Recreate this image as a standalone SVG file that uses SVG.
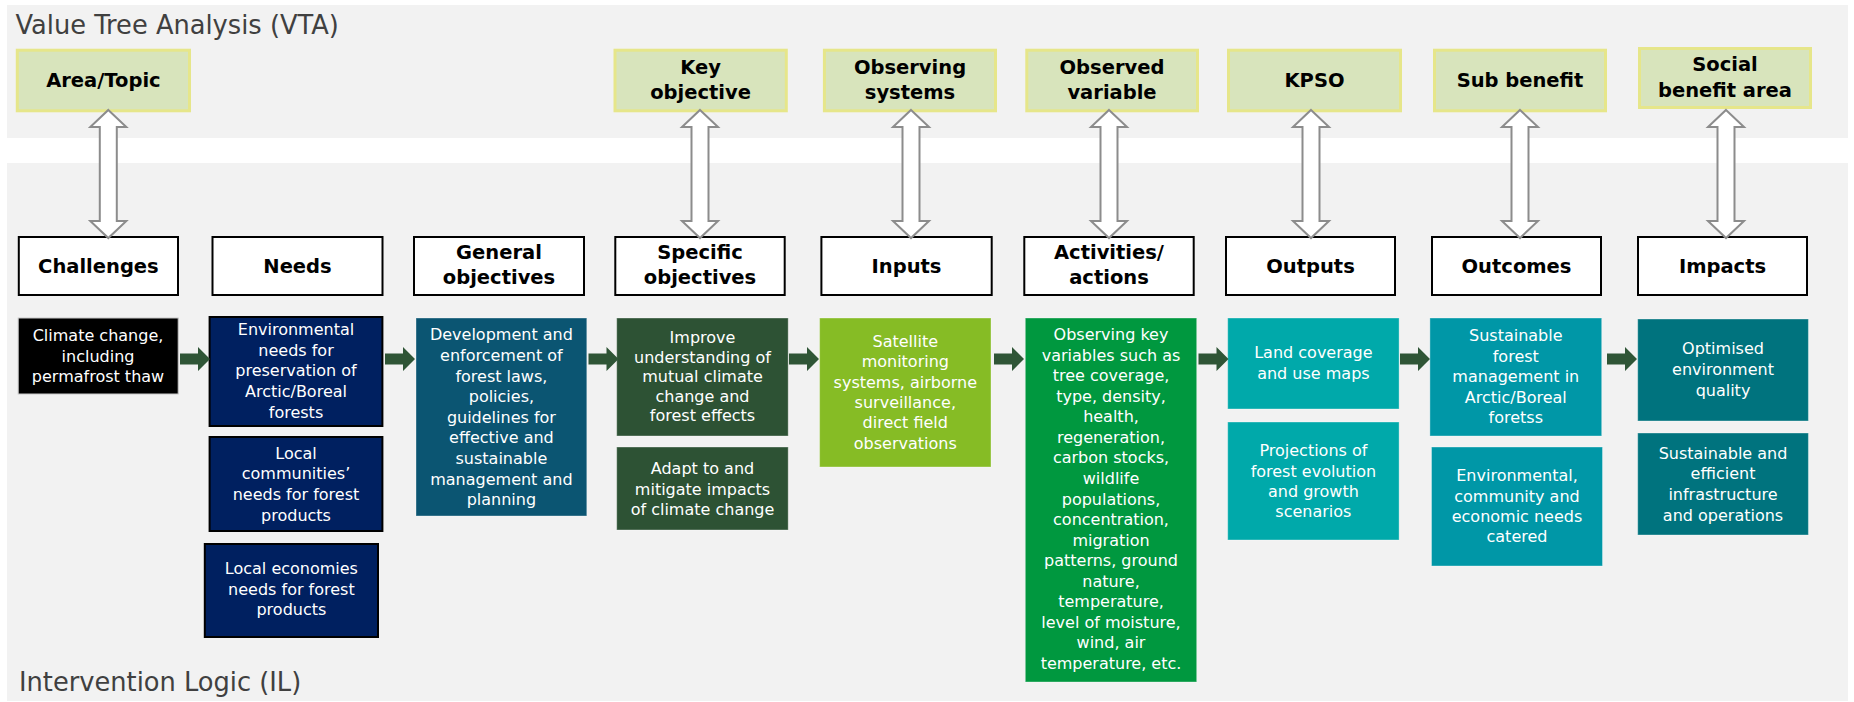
<svg xmlns="http://www.w3.org/2000/svg" width="1854" height="702" viewBox="0 0 1854 702">
<style>
.band{fill:#f2f2f2}
.ttl{font-family:"DejaVu Sans",sans-serif;font-size:25.7px;fill:#404040}
.vta{fill:#d8e4bc;stroke:#e6e68a;stroke-width:3}
.hdr{fill:#fff;stroke:#000;stroke-width:2}
.b{font-family:"DejaVu Sans",sans-serif;font-weight:bold;font-size:19.5px;fill:#000;text-anchor:middle}
.t{font-family:"DejaVu Sans",sans-serif;font-size:16px;fill:#fff;text-anchor:middle}
.dbl{fill:#fff;stroke:#8c8c8c;stroke-width:2}
.ga{fill:#2f5536}
.bx{stroke:#ffffff;stroke-opacity:0.35;stroke-width:1}
.navy{fill:#002060;stroke:#000;stroke-width:2}
</style>
<defs>
<path id="dblarrow" d="M0,0 L18,17 H8.5 V111 H18 L0,128 L-18,111 H-8.5 V17 H-18 Z"/>
<path id="garrow" d="M0,-5.5 H18 V-12 L30,0 L18,12 V5.5 H0 Z"/>
</defs>
<rect width="1854" height="702" fill="#fff"/>
<rect class="band" x="7" y="5" width="1841" height="133"/>
<rect class="band" x="7" y="163" width="1841" height="538"/>
<text class="ttl" x="15.5" y="34">Value Tree Analysis (VTA)</text>
<text class="ttl" x="19" y="691">Intervention Logic (IL)</text>

<g id="vta-area-topic"><rect class="vta" x="17.3" y="50.2" width="172.2" height="60.6"/><text class="b" x="103.4" y="86.7">Area/Topic</text></g>
<g id="vta-key-objective"><rect class="vta" x="615" y="50.2" width="171.3" height="60.6"/><text class="b" x="700.6" y="74">Key</text><text class="b" x="700.6" y="99">objective</text></g>
<g id="vta-observing-systems"><rect class="vta" x="824.4" y="50.2" width="171.1" height="60.6"/><text class="b" x="910" y="74">Observing</text><text class="b" x="910" y="99">systems</text></g>
<g id="vta-observed-variable"><rect class="vta" x="1026.8" y="50.2" width="170.7" height="60.6"/><text class="b" x="1112" y="74">Observed</text><text class="b" x="1112" y="99">variable</text></g>
<g id="vta-kpso"><rect class="vta" x="1228.5" y="50.2" width="172" height="60.6"/><text class="b" x="1314.5" y="86.7">KPSO</text></g>
<g id="vta-sub-benefit"><rect class="vta" x="1434.5" y="50.2" width="171" height="60.6"/><text class="b" x="1520" y="86.7">Sub benefit</text></g>
<g id="vta-social-benefit-area"><rect class="vta" x="1639.5" y="48.5" width="171" height="59"/><text class="b" x="1725" y="71">Social</text><text class="b" x="1725" y="96.7">benefit area</text></g>

<g id="hdr-challenges"><rect class="hdr" x="18.8" y="237" width="159.2" height="58"/><text class="b" x="98.4" y="273">Challenges</text></g>
<g id="hdr-needs"><rect class="hdr" x="212.5" y="237" width="170" height="58"/><text class="b" x="297.5" y="273">Needs</text></g>
<g id="hdr-general-objectives"><rect class="hdr" x="414" y="237" width="170" height="58"/><text class="b" x="499" y="259.3">General</text><text class="b" x="499" y="284">objectives</text></g>
<g id="hdr-specific-objectives"><rect class="hdr" x="615.3" y="237" width="169.4" height="58"/><text class="b" x="700" y="259.3">Specific</text><text class="b" x="700" y="284">objectives</text></g>
<g id="hdr-inputs"><rect class="hdr" x="821.4" y="237" width="170.3" height="58"/><text class="b" x="906.5" y="273">Inputs</text></g>
<g id="hdr-activities-actions"><rect class="hdr" x="1024.3" y="237" width="169.4" height="58"/><text class="b" x="1109" y="259.3">Activities/</text><text class="b" x="1109" y="284">actions</text></g>
<g id="hdr-outputs"><rect class="hdr" x="1226" y="237" width="169" height="58"/><text class="b" x="1310.5" y="273">Outputs</text></g>
<g id="hdr-outcomes"><rect class="hdr" x="1432" y="237" width="169" height="58"/><text class="b" x="1516.5" y="273">Outcomes</text></g>
<g id="hdr-impacts"><rect class="hdr" x="1638" y="237" width="169" height="58"/><text class="b" x="1722.5" y="273">Impacts</text></g>

<g id="challenge-climate"><rect x="18.2" y="318" width="160" height="76" fill="#000" stroke="#c8c8c8" stroke-width="1"/>
<text class="t"><tspan x="98" y="341">Climate change,</tspan><tspan x="98" y="361.5">including</tspan><tspan x="98" y="382">permafrost thaw</tspan></text></g>

<g id="need-environmental"><rect class="navy" x="209.6" y="317" width="172.8" height="109"/>
<text class="t"><tspan x="296" y="335">Environmental</tspan><tspan x="296" y="355.7">needs for</tspan><tspan x="296" y="376.3">preservation of</tspan><tspan x="296" y="396.9">Arctic/Boreal</tspan><tspan x="296" y="417.5">forests</tspan></text></g>
<g id="need-local-communities"><rect class="navy" x="209.6" y="437" width="172.8" height="94"/>
<text class="t"><tspan x="296" y="458.7">Local</tspan><tspan x="296" y="479.3">communities’</tspan><tspan x="296" y="500">needs for forest</tspan><tspan x="296" y="520.5">products</tspan></text></g>
<g id="need-local-economies"><rect class="navy" x="204.8" y="544" width="173.2" height="93"/>
<text class="t"><tspan x="291.4" y="574">Local economies</tspan><tspan x="291.4" y="594.7">needs for forest</tspan><tspan x="291.4" y="615.3">products</tspan></text></g>

<g id="general-objective"><rect class="bx" x="416" y="318" width="170.8" height="198" fill="#0b5572"/>
<text class="t"><tspan x="501.4" y="340.3">Development and</tspan><tspan x="501.4" y="360.9">enforcement of</tspan><tspan x="501.4" y="381.5">forest laws,</tspan><tspan x="501.4" y="402.1">policies,</tspan><tspan x="501.4" y="422.7">guidelines for</tspan><tspan x="501.4" y="443.3">effective and</tspan><tspan x="501.4" y="463.9">sustainable</tspan><tspan x="501.4" y="484.5">management and</tspan><tspan x="501.4" y="505.1">planning</tspan></text></g>

<g id="specific-improve"><rect class="bx" x="616.7" y="318" width="171.5" height="118" fill="#2d5234"/>
<text class="t"><tspan x="702.5" y="343.3">Improve</tspan><tspan x="702.5" y="362.8">understanding of</tspan><tspan x="702.5" y="382.3">mutual climate</tspan><tspan x="702.5" y="401.8">change and</tspan><tspan x="702.5" y="421.3">forest effects</tspan></text></g>
<g id="specific-adapt"><rect class="bx" x="616.7" y="447" width="171.5" height="83" fill="#2d5234"/>
<text class="t"><tspan x="702.5" y="474">Adapt to and</tspan><tspan x="702.5" y="494.7">mitigate impacts</tspan><tspan x="702.5" y="515">of climate change</tspan></text></g>

<g id="input-satellite"><rect class="bx" x="819.6" y="318" width="171.4" height="149" fill="#86bc25"/>
<text class="t"><tspan x="905.3" y="346.7">Satellite</tspan><tspan x="905.3" y="367.1">monitoring</tspan><tspan x="905.3" y="387.5">systems, airborne</tspan><tspan x="905.3" y="407.9">surveillance,</tspan><tspan x="905.3" y="428.3">direct field</tspan><tspan x="905.3" y="448.7">observations</tspan></text></g>

<g id="activity-observing"><rect class="bx" x="1025.3" y="318" width="171.4" height="364" fill="#00983f"/>
<text class="t"><tspan x="1111" y="340">Observing key</tspan><tspan x="1111" y="360.6">variables such as</tspan><tspan x="1111" y="381.1">tree coverage,</tspan><tspan x="1111" y="401.7">type, density,</tspan><tspan x="1111" y="422.2">health,</tspan><tspan x="1111" y="442.8">regeneration,</tspan><tspan x="1111" y="463.4">carbon stocks,</tspan><tspan x="1111" y="483.9">wildlife</tspan><tspan x="1111" y="504.5">populations,</tspan><tspan x="1111" y="525">concentration,</tspan><tspan x="1111" y="545.6">migration</tspan><tspan x="1111" y="566.2">patterns, ground</tspan><tspan x="1111" y="586.7">nature,</tspan><tspan x="1111" y="607.3">temperature,</tspan><tspan x="1111" y="627.8">level of moisture,</tspan><tspan x="1111" y="648.4">wind, air</tspan><tspan x="1111" y="669">temperature, etc.</tspan></text></g>

<g id="output-land-coverage"><rect class="bx" x="1227.7" y="318" width="171.4" height="91" fill="#00a9aa"/>
<text class="t"><tspan x="1313.4" y="358.3">Land coverage</tspan><tspan x="1313.4" y="379">and use maps</tspan></text></g>
<g id="output-projections"><rect class="bx" x="1227.7" y="422" width="171.4" height="118" fill="#00a9aa"/>
<text class="t"><tspan x="1313.4" y="456">Projections of</tspan><tspan x="1313.4" y="476.7">forest evolution</tspan><tspan x="1313.4" y="497.3">and growth</tspan><tspan x="1313.4" y="517.3">scenarios</tspan></text></g>

<g id="outcome-sustainable-forest"><rect class="bx" x="1429.9" y="318" width="171.8" height="118" fill="#0097a7"/>
<text class="t"><tspan x="1515.8" y="341">Sustainable</tspan><tspan x="1515.8" y="361.6">forest</tspan><tspan x="1515.8" y="382.2">management in</tspan><tspan x="1515.8" y="402.7">Arctic/Boreal</tspan><tspan x="1515.8" y="423.3">foretss</tspan></text></g>
<g id="outcome-needs-catered"><rect class="bx" x="1431.5" y="447" width="171" height="119" fill="#0097a7"/>
<text class="t"><tspan x="1517" y="481">Environmental,</tspan><tspan x="1517" y="501.6">community and</tspan><tspan x="1517" y="522.2">economic needs</tspan><tspan x="1517" y="542.3">catered</tspan></text></g>

<g id="impact-environment"><rect class="bx" x="1637.7" y="319" width="170.7" height="102" fill="#00737e"/>
<text class="t"><tspan x="1723" y="354">Optimised</tspan><tspan x="1723" y="374.8">environment</tspan><tspan x="1723" y="395.6">quality</tspan></text></g>
<g id="impact-infrastructure"><rect class="bx" x="1637.7" y="433" width="170.7" height="102" fill="#00737e"/>
<text class="t"><tspan x="1723" y="458.7">Sustainable and</tspan><tspan x="1723" y="479.3">efficient</tspan><tspan x="1723" y="500">infrastructure</tspan><tspan x="1723" y="520.5">and operations</tspan></text></g>

<g id="connectors">
<use href="#dblarrow" class="dbl" transform="translate(108.3,110)"/>
<use href="#dblarrow" class="dbl" transform="translate(700,110)"/>
<use href="#dblarrow" class="dbl" transform="translate(911,110)"/>
<use href="#dblarrow" class="dbl" transform="translate(1109,110)"/>
<use href="#dblarrow" class="dbl" transform="translate(1311,110)"/>
<use href="#dblarrow" class="dbl" transform="translate(1520,110)"/>
<use href="#dblarrow" class="dbl" transform="translate(1726,110)"/>
<use href="#garrow" class="ga" transform="translate(180,359)"/>
<use href="#garrow" class="ga" transform="translate(385,359)"/>
<use href="#garrow" class="ga" transform="translate(588.5,359)"/>
<use href="#garrow" class="ga" transform="translate(789,359)"/>
<use href="#garrow" class="ga" transform="translate(994,359)"/>
<use href="#garrow" class="ga" transform="translate(1198.5,359)"/>
<use href="#garrow" class="ga" transform="translate(1400,359)"/>
<use href="#garrow" class="ga" transform="translate(1607,359)"/>
</g>
</svg>
